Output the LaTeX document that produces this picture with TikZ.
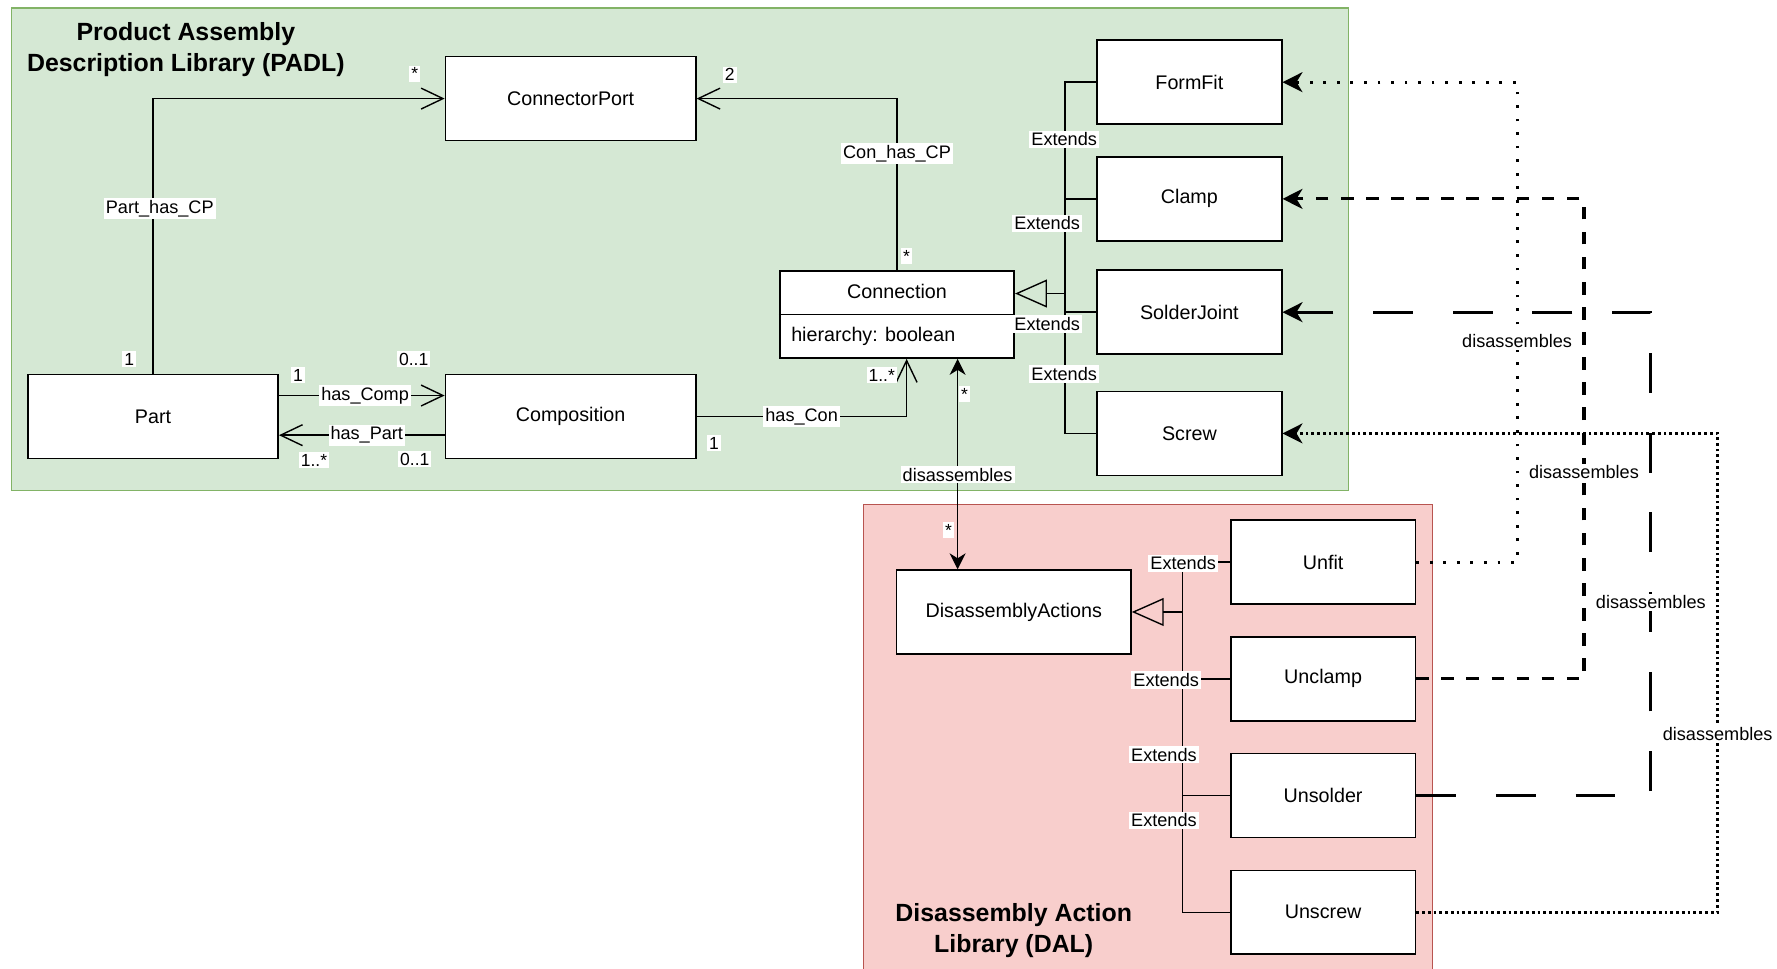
\documentclass[tikz,border=0pt]{standalone}
\usepackage{fontspec}
\setmainfont{Liberation Sans}
\usetikzlibrary{arrows.meta}

\definecolor{padlfill}{HTML}{D5E8D4}
\definecolor{padlline}{HTML}{82B366}
\definecolor{dalfill}{HTML}{F8CECC}
\definecolor{dalline}{HTML}{B85450}

\tikzset{
  cls/.style={rectangle, draw, fill=white, line width=0.8pt, minimum width=4.42cm, minimum height=1.48cm, font=\fontsize{9.9}{12}\selectfont},
  sub/.style={cls, minimum width=3.26cm},
  lbl/.style={fill=white, inner sep=1pt, font=\fontsize{9.1}{11}\selectfont},
  mult/.style={fill=white, inner sep=1pt, font=\fontsize{8.8}{10}\selectfont},
  title/.style={align=center, font=\bfseries\fontsize{12.5}{15.4}\selectfont},
  assoc/.style={line width=0.7pt, -{Straight Barb[length=11pt,width=10.5pt]}},
  gen/.style={line width=0.7pt},
  inherit/.style={line width=0.7pt, -{Triangle[open,length=16pt,width=14pt]}},
  tip/.style={-{Stealth[length=10pt,width=10pt,inset=3pt]}},
  dotsparse/.style={tip, line width=1.4pt, dash pattern=on 1.4pt off 5.4pt},
  dashmid/.style={tip, line width=1.6pt, dash pattern=on 6.3pt off 6.3pt},
  dashlong/.style={tip, line width=1.6pt, dash pattern=on 20pt off 20pt},
  dotdense/.style={tip, line width=1.4pt, dash pattern=on 1.4pt off 1.5pt}
}

\begin{document}
\begin{tikzpicture}[x=0.02cm, y=-0.02cm, node distance=2.06cm]
\useasboundingbox (0,0) rectangle (1568,855);

% Libraries
\draw[padlline, fill=padlfill, line width=0.6pt] (10,7) rectangle (1190,433);
\fill[dalfill] (762,445) rectangle (1264,855);
\draw[dalline, line width=0.6pt] (762,855) -- (762,445) -- (1264,445) -- (1264,855);
\node (padltitle) [title] at (164,43.5) {Product Assembly\\Description Library (PADL)};
\node (daltitle) [title] at (894.5,821) {Disassembly Action\\Library (DAL)};

% Nodes
\node (part) [cls] at (135,367.5) {Part};
\node (cport) [cls] at (503.5,87) {ConnectorPort};
\node (comp) [cls] at (503.5,367.5) {Composition};
\node (connection) [cls, minimum width=4.14cm, minimum height=1.54cm] at (791.5,277.5) {};
\draw[line width=0.6pt] (connection.west) -- (connection.east);
\node (conname) [font=\fontsize{9.9}{12}\selectfont] at (791.5,257) {Connection};
\node (conattr) [anchor=west, font=\fontsize{9.9}{12}\selectfont] at (692,297) {hierarchy: boolean};

\node (formfit) [sub] at (1049.5,72.5) {FormFit};
\node (clamp) [sub, below of=formfit] {Clamp};
\node (solder) [sub, below of=clamp, yshift=0.06cm] {SolderJoint};
\node (screw) [sub, below of=solder, yshift=-0.08cm] {Screw};

\node (da) [cls, minimum width=4.14cm] at (894.5,540) {DisassemblyActions};
\node (unfit) [sub] at (1167.5,496) {Unfit};
\node (unclamp) [sub, below of=unfit] {Unclamp};
\node (unsolder) [sub, below of=unclamp] {Unsolder};
\node (unscrew) [sub, below of=unsolder] {Unscrew};

% Associations
\draw[assoc] (part.north) |- (cport.west) node[lbl, pos=0.3, xshift=0.12cm] {Part\_has\_CP};
\draw[assoc] (connection.north) |- (cport.east) node[lbl, pos=0.34] {Con\_has\_CP};
\draw[assoc] ([yshift=0.37cm]part.east) -- ([yshift=0.37cm]comp.west) node[lbl, pos=0.52] {has\_Comp};
\draw[assoc] ([yshift=-0.33cm]comp.west) -- ([yshift=-0.33cm]part.east) node[lbl, pos=0.47] {has\_Part};
\draw[assoc] (comp.east) -| ([xshift=0.17cm]connection.south) node[lbl, pos=0.25] {has\_Con};
\coordinate (cdis) at ([xshift=1.07cm]connection.south);
\draw[line width=0.7pt, {Stealth[length=8pt,width=8pt,inset=2.5pt]}-{Stealth[length=8pt,width=8pt,inset=2.5pt]}]
  (cdis) -- (cdis |- da.north) node[lbl, pos=0.55] {disassembles};

% Multiplicities
\node (m1) [mult] at (114,317) {1};
\node (m2) [mult] at (366,65) {*};
\node (m3) [mult] at (263,331) {1};
\node (m4) [mult] at (365,317) {0..1};
\node (m5) [mult] at (277,406) {1..*};
\node (m6) [mult] at (366,405) {0..1};
\node (m7) [mult] at (644,66) {2};
\node (m8) [mult] at (800,226) {*};
\node (m9) [mult] at (630,391) {1};
\node (m10) [mult] at (778,331) {1..*};
\node (m11) [mult] at (851,348) {*};
\node (m12) [mult] at (837,468) {*};

% Generalisation
\coordinate (gpadl) at ([xshift=0.88cm, yshift=0.37cm]connection.east);
\draw[gen] (formfit.west) -| (gpadl);
\draw[gen] (clamp.west) -| (gpadl);
\draw[gen] (solder.west) -| (gpadl);
\draw[gen] (screw.west) -| (gpadl);
\draw[inherit] (gpadl) -- (gpadl -| connection.east);
\coordinate (gdal) at ([xshift=0.9cm]da.east);
\draw[gen] (unfit.west) -| (gdal);
\draw[gen] (unclamp.west) -| (gdal);
\draw[gen] (unsolder.west) -| (gdal);
\draw[gen] (unscrew.west) -| (gdal);
\draw[inherit] (gdal) -- (da.east);
\node (ext1) [lbl] at (939,123) {Extends};
\node (ext2) [lbl] at (924,197) {Extends};
\node (ext3) [lbl] at (924,286) {Extends};
\node (ext4) [lbl] at (939,330) {Extends};
\node (ext5) [lbl] at (1044,497) {Extends};
\node (ext6) [lbl] at (1029,600) {Extends};
\node (ext7) [lbl] at (1027,666) {Extends};
\node (ext8) [lbl] at (1027,724) {Extends};

% Disassembly links
\draw[dotsparse] (unfit.east) -- ++(1.78cm,0) |- (formfit.east) node[lbl, pos=0.23] {disassembles};
\draw[dashmid] (unclamp.east) -- ++(2.96cm,0) |- (clamp.east) node[lbl, pos=0.215] {disassembles};
\draw[dashlong] (unsolder.east) -- ++(4.14cm,0) |- (solder.east) node[lbl, pos=0.2] {disassembles};
\draw[dotdense] (unscrew.east) -- ++(5.32cm,0) |- (screw.east) node[lbl, pos=0.186] {disassembles};

\end{tikzpicture}
\end{document}
